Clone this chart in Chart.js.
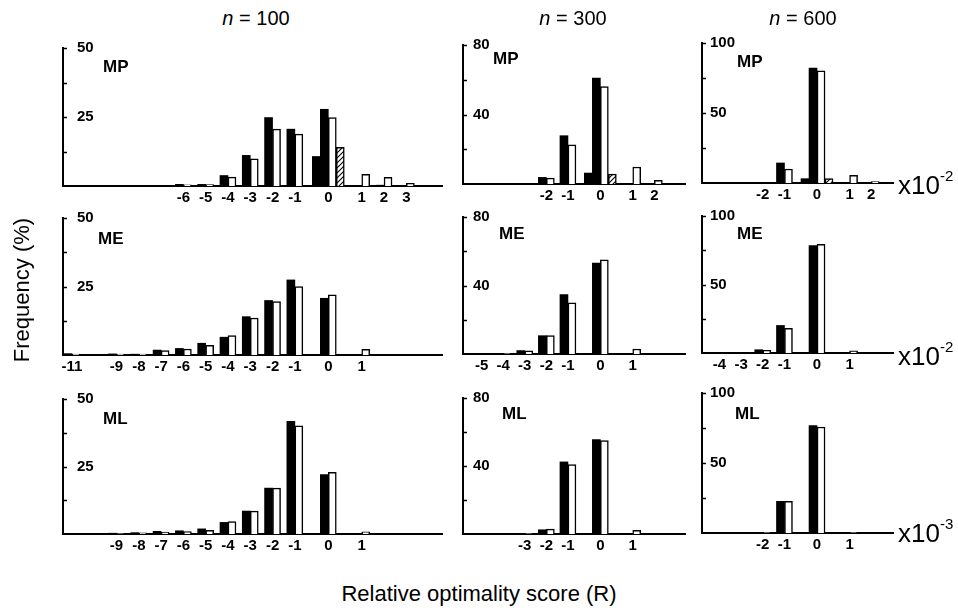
<!DOCTYPE html>
<html>
<head>
<meta charset="utf-8">
<script src="https://cdn.jsdelivr.net/npm/chart.js@4.4.1/dist/chart.umd.min.js"></script>
<style>
  body { margin: 0; background: #fff; }
  #fig { position: relative; width: 958px; height: 615px; overflow: hidden;
         font-family: "Liberation Sans", Arial, sans-serif; color: #000; background: #fff; }
  #fig canvas { position: absolute; }
  .lbl { position: absolute; white-space: nowrap; line-height: 1; }
  .tag { font-weight: bold; font-size: 17px; }
  .head { font-size: 20px; transform: translateX(-50%); }
  .unit { font-size: 26px; }
  .unit sup { font-size: 15px; position: relative; top: -0.3em; vertical-align: top; }
  .ytitle { font-size: 22px; transform: translate(-50%, -50%) rotate(-90deg); }
  .xtitle { font-size: 22px; transform: translateX(-50%); }
</style>
</head>
<body>
<div id="fig"></div>
<script>
// R bins and frequencies (%), black = first method, white = second method
// MP, n = 100 / 300 / 600
const binsMP100 = [-6, -5, -4, -3, -2, -1, 0, 1, 2, 3];
const blackMP100 = [0.6, 0.6, 3.8, 11.1, 24.8, 20.6, 27.8, 0, 0.3, 0];
const whiteMP100 = [0.4, 0.5, 3.2, 9.8, 20.6, 18.8, 24.8, 4.2, 3.1, 1.0];
const binsMP300 = [-2, -1, 0, 1, 2];
const blackMP300 = [3.8, 27.8, 60.9, 0, 0];
const whiteMP300 = [3.4, 22.6, 56.1, 9.8, 2.1];
const binsMP600 = [-2, -1, 0, 1, 2];
const blackMP600 = [0.3, 14.3, 82.1, 0, 0];
const whiteMP600 = [0, 10.0, 80.2, 5.5, 1.0];
// extra bars at R = 0 for MP (n = 100, 300, 600)
const zeroBlackMP = [10.7, 6.3, 3.1];
const zeroHatchMP = [14.0, 5.7, 3.1];

// ME
const binsME100 = [-11, -10, -9, -8, -7, -6, -5, -4, -3, -2, -1, 0, 1];
const blackME100 = [0.5, 0, 0.4, 0.3, 1.8, 2.4, 4.3, 6.5, 14.0, 19.9, 27.4, 20.7, 0];
const whiteME100 = [0.3, 0, 0.3, 0.3, 1.6, 2.2, 3.5, 7.1, 13.5, 19.5, 25.0, 22.0, 2.1];
const binsME300 = [-5, -4, -3, -2, -1, 0, 1];
const blackME300 = [0, 0.3, 2.0, 10.7, 34.7, 53.1, 0];
const whiteME300 = [0, 0.2, 1.8, 10.7, 29.9, 55.0, 2.9];
const binsME600 = [-4, -3, -2, -1, 0, 1];
const blackME600 = [0, 0, 2.4, 20.1, 78.4, 0];
const whiteME600 = [0, 0, 2.0, 18.0, 79.4, 1.5];

// ML
const binsML100 = [-9, -8, -7, -6, -5, -4, -3, -2, -1, 0, 1];
const blackML100 = [0.3, 0.5, 1.0, 1.2, 1.9, 4.3, 8.5, 17.0, 41.7, 22.0, 0];
const whiteML100 = [0.2, 0.4, 0.7, 0.9, 1.4, 4.6, 8.5, 17.0, 40.1, 22.8, 0.8];
const binsML300 = [-3, -2, -1, 0, 1];
const blackML300 = [0.4, 2.5, 42.4, 55.5, 0];
const whiteML300 = [0.3, 2.9, 40.8, 54.9, 2.2];
const binsML600 = [-2, -1, 0, 1];
const blackML600 = [0.5, 22.6, 76.7, 0];
const whiteML600 = [0.3, 22.6, 75.7, 0.3];

// labelled bins on each x axis
const ticksMP100 = [-6, -5, -4, -3, -2, -1, 0, 1, 2, 3];
const ticksMP300 = [-2, -1, 0, 1, 2];
const ticksMP600 = [-2, -1, 0, 1, 2];
const ticksME100 = [-11, -9, -8, -7, -6, -5, -4, -3, -2, -1, 0, 1];
const ticksME300 = [-5, -4, -3, -2, -1, 0, 1];
const ticksME600 = [-4, -3, -2, -1, 0, 1];
const ticksML100 = [-9, -8, -7, -6, -5, -4, -3, -2, -1, 0, 1];
const ticksML300 = [-3, -2, -1, 0, 1];
const ticksML600 = [-2, -1, 0, 1];

const sizes = ['n = 100', 'n = 300', 'n = 600'];
const models = ['MP', 'ME', 'ML'];
const yMax = [50, 80, 100];
const yMajor = [25, 40, 50];
const xRange = [[-11.4, 4.6], [-5.86, 3.42], [-4.8, 3.0]];
const scaleExp = [-2, -2, -3];

// ---- layout ----
const boxes = [ // [left, top, right, baseline] of each plot area
  [[63, 48, 442, 186], [463, 45, 685, 184], [702, 43, 893, 183]],
  [[63, 218, 442, 355], [463, 217, 685, 354], [702, 216, 893, 353]],
  [[63, 399, 442, 534], [463, 398, 685, 534], [702, 393, 893, 533]]
];
const tagPos = [
  [[103, 58], [493, 50], [737, 53]],
  [[98, 230], [499, 225], [737, 225]],
  [[103, 410], [502, 405], [735, 405]]
];
const yLabelGap = [14, 10, 8];
const PL = 4, PT = 12, PR = 8, XH = 26;
const BAR = 8;

// zero bin gets half a slot of extra room on each side
const shift = k => k < 0 ? k : (k === 0 ? 0.5 : k + 1);
const unshift = p => p < 0 ? p : (p === 0.5 ? 0 : p - 1);

const fig = document.getElementById('fig');

function hatchPattern() {
  const c = document.createElement('canvas');
  c.width = 5; c.height = 5;
  const g = c.getContext('2d');
  g.fillStyle = '#fff';
  g.fillRect(0, 0, 5, 5);
  g.strokeStyle = '#000';
  g.lineWidth = 1.1;
  g.beginPath();
  g.moveTo(0, 5); g.lineTo(5, 0);
  g.moveTo(-1, 1); g.lineTo(1, -1);
  g.moveTo(4, 6); g.lineTo(6, 4);
  g.stroke();
  return g.createPattern(c, 'repeat');
}
const hatch = hatchPattern();

// short inward ticks on the y axis
const innerTicks = {
  id: 'innerTicks',
  afterDraw(chart) {
    const ys = chart.scales.y, ctx = chart.ctx, x0 = chart.chartArea.left;
    ctx.save();
    ctx.strokeStyle = '#000';
    ctx.lineWidth = 1.5;
    ys.ticks.forEach(t => {
      if (t.value <= 0) return;
      const py = Math.round(ys.getPixelForValue(t.value)) + 0.5;
      ctx.beginPath();
      ctx.moveTo(x0, py);
      ctx.lineTo(x0 + 4, py);
      ctx.stroke();
    });
    ctx.restore();
  }
};

const points = (bins, vals) => bins.map((k, i) => ({ x: shift(k), y: vals[i] }));

function addPanel(row, col, bins, black, white, tickBins, zeroExtra) {
  const [L, T, R, B] = boxes[row][col];
  const canvas = document.createElement('canvas');
  canvas.width = R - L + PL + PR;
  canvas.height = B - T + PT + XH;
  canvas.style.left = (L - PL) + 'px';
  canvas.style.top = (T - PT) + 'px';
  fig.appendChild(canvas);

  const datasets = [];
  if (zeroExtra) {
    datasets.push({ data: [{ x: shift(0), y: zeroExtra[0] }], backgroundColor: '#000', borderWidth: 0, stack: 'a' });
  }
  datasets.push({ data: points(bins, black), backgroundColor: '#000', borderWidth: 0, stack: 'b' });
  datasets.push({ data: points(bins, white), backgroundColor: '#fff', borderColor: '#000', borderWidth: 1.5, stack: 'c' });
  if (zeroExtra) {
    datasets.push({ data: [{ x: shift(0), y: zeroExtra[1] }], backgroundColor: hatch, borderColor: '#000', borderWidth: 1.5, stack: 'd' });
  }

  new Chart(canvas, {
    type: 'bar',
    data: { datasets },
    options: {
      responsive: false,
      animation: false,
      devicePixelRatio: 1,
      events: [],
      layout: { padding: { left: PL, top: PT, right: PR, bottom: 0 } },
      plugins: { legend: { display: false }, tooltip: { enabled: false } },
      datasets: { bar: { barThickness: BAR, skipNull: true, grouped: true, borderSkipped: 'start' } },
      scales: {
        x: {
          type: 'linear',
          offset: false,
          z: 1,
          min: shift(xRange[col][0]),
          max: shift(xRange[col][1]),
          grid: { display: false, drawTicks: false, offset: false },
          border: { color: '#000', width: 2 },
          ticks: {
            color: '#000',
            font: { family: '"Liberation Sans", Arial', size: 15, weight: 'bold' },
            padding: 3,
            autoSkip: false,
            maxRotation: 0,
            callback: v => String(unshift(v))
          },
          afterBuildTicks: s => { s.ticks = tickBins.map(k => ({ value: shift(k) })); },
          afterFit: s => { s.height = XH; s.paddingLeft = 0; s.paddingRight = 0; }
        },
        y: {
          min: 0,
          max: yMax[col],
          grid: { display: false, drawTicks: false },
          border: { color: '#000', width: 2 },
          ticks: {
            stepSize: yMajor[col] / 2,
            mirror: true,
            padding: yLabelGap[col],
            color: '#000',
            font: { family: '"Liberation Sans", Arial', size: 15, weight: 'bold' },
            callback: v => (v > 0 && v % yMajor[col] === 0) ? String(v) : ''
          },
          afterFit: s => { s.width = 0; s.paddingTop = 0; s.paddingBottom = 0; }
        }
      }
    },
    plugins: [innerTicks]
  });

  const tag = document.createElement('div');
  tag.className = 'lbl tag';
  tag.textContent = models[row];
  tag.style.left = tagPos[row][col][0] + 'px';
  tag.style.top = tagPos[row][col][1] + 'px';
  fig.appendChild(tag);
}

addPanel(0, 0, binsMP100, blackMP100, whiteMP100, ticksMP100, [zeroBlackMP[0], zeroHatchMP[0]]);
addPanel(0, 1, binsMP300, blackMP300, whiteMP300, ticksMP300, [zeroBlackMP[1], zeroHatchMP[1]]);
addPanel(0, 2, binsMP600, blackMP600, whiteMP600, ticksMP600, [zeroBlackMP[2], zeroHatchMP[2]]);
addPanel(1, 0, binsME100, blackME100, whiteME100, ticksME100);
addPanel(1, 1, binsME300, blackME300, whiteME300, ticksME300);
addPanel(1, 2, binsME600, blackME600, whiteME600, ticksME600);
addPanel(2, 0, binsML100, blackML100, whiteML100, ticksML100);
addPanel(2, 1, binsML300, blackML300, whiteML300, ticksML300);
addPanel(2, 2, binsML600, blackML600, whiteML600, ticksML600);

// column headings, axis titles, exponent notes
const headX = [256, 573, 803];
sizes.forEach((s, i) => {
  const d = document.createElement('div');
  d.className = 'lbl head';
  d.innerHTML = '<i>n</i>' + s.slice(1);
  d.style.left = headX[i] + 'px';
  d.style.top = '8px';
  fig.appendChild(d);
});

const yt = document.createElement('div');
yt.className = 'lbl ytitle';
yt.textContent = 'Frequency (%)';
yt.style.left = '22px';
yt.style.top = '290px';
fig.appendChild(yt);

const xt = document.createElement('div');
xt.className = 'lbl xtitle';
xt.textContent = 'Relative optimality score (R)';
xt.style.left = '479px';
xt.style.top = '583px';
fig.appendChild(xt);

const unitY = [172, 343, 520];
scaleExp.forEach((e, i) => {
  const d = document.createElement('div');
  d.className = 'lbl unit';
  d.innerHTML = 'x10<sup>' + e + '</sup>';
  d.style.left = '898px';
  d.style.top = unitY[i] + 'px';
  fig.appendChild(d);
});
</script>
</body>
</html>
